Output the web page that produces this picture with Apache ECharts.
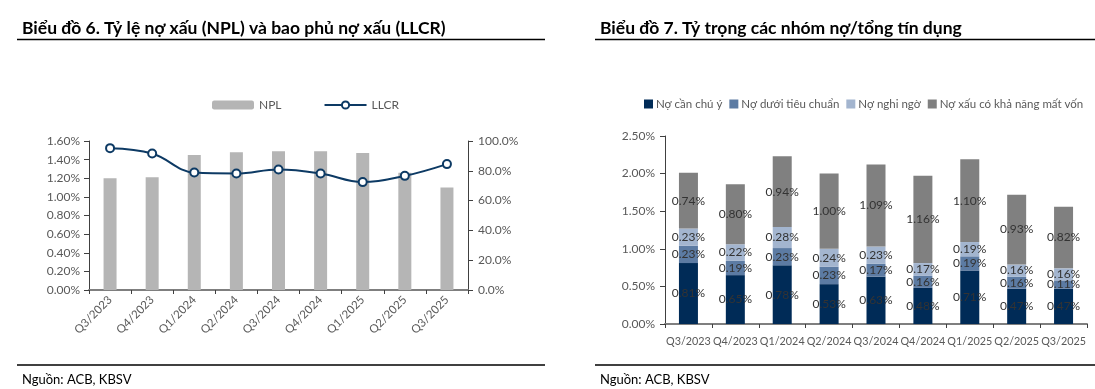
<!DOCTYPE html>
<html><head><meta charset="utf-8">
<script src="https://cdn.jsdelivr.net/npm/echarts@6/dist/echarts.min.js"></script>
<style>html,body{margin:0;padding:0;background:#fff}#c{width:1095px;height:389px}</style>
</head><body><div id="c"></div>
<script>
const quarters = ['Q3/2023','Q4/2023','Q1/2024','Q2/2024','Q3/2024','Q4/2024','Q1/2025','Q2/2025','Q3/2025'];
const npl = [1.20, 1.21, 1.45, 1.48, 1.49, 1.49, 1.47, 1.26, 1.10];
const llcr = [95.2, 91.6, 78.8, 78.2, 80.9, 78.2, 72.4, 76.6, 84.5];
const canChuY = [0.81, 0.65, 0.78, 0.53, 0.63, 0.48, 0.71, 0.47, 0.47];
const duoiTieuChuan = [0.23, 0.19, 0.23, 0.23, 0.17, 0.16, 0.19, 0.16, 0.11];
const nghiNgo = [0.23, 0.22, 0.28, 0.24, 0.23, 0.17, 0.19, 0.16, 0.16];
const matVon = [0.74, 0.80, 0.94, 1.00, 1.09, 1.16, 1.10, 0.93, 0.82];
const groupNames = ['Nợ cần chú ý','Nợ dưới tiêu chuẩn','Nợ nghi ngờ','Nợ xấu có khả năng mất vốn'];
const groupColors = ['#002B57','#5C7BA3','#A3B5CF','#808080'];

const FONT = 'Lato, "Noto Sans", sans-serif';
const axisTxt = {color:'#595959', fontFamily: FONT, fontSize: 12};
const chart = echarts.init(document.getElementById('c'), null, {renderer:'canvas'});

const labelCfg = {show:true, position:'inside', color:'#333', fontFamily:FONT, fontSize:12,
  formatter: p => p.value.toFixed(2) + '%'};
const stackSeries = [canChuY, duoiTieuChuan, nghiNgo, matVon].map((arr,i)=>({
  name: groupNames[i], type:'bar', stack:'s', xAxisIndex:1, yAxisIndex:2,
  data: arr, barWidth:19, itemStyle:{color:groupColors[i]}, label: labelCfg
}));

chart.setOption({
  animation:false,
  textStyle:{fontFamily:FONT},
  title:[
    {text:'Biểu đồ 6. Tỷ lệ nợ xấu (NPL) và bao phủ nợ xấu (LLCR)', left:17, top:14,
     textStyle:{fontSize:17.5, fontWeight:'bold', color:'#000', fontFamily:FONT}},
    {text:'Biểu đồ 7. Tỷ trọng các nhóm nợ/tổng tín dụng', left:595, top:14,
     textStyle:{fontSize:17.5, fontWeight:'bold', color:'#000', fontFamily:FONT}},
    {text:'Nguồn: ACB, KBSV', left:17, top:368, textStyle:{fontSize:13, fontWeight:'normal', color:'#000', fontFamily:FONT}},
    {text:'Nguồn: ACB, KBSV', left:595, top:368, textStyle:{fontSize:13, fontWeight:'normal', color:'#000', fontFamily:FONT}}
  ],
  graphic:[
    {type:'line', shape:{x1:17,y1:39.5,x2:545,y2:39.5}, style:{stroke:'#000', lineWidth:1.5}},
    {type:'line', shape:{x1:595,y1:39.5,x2:1095,y2:39.5}, style:{stroke:'#000', lineWidth:1.5}},
    {type:'line', shape:{x1:17,y1:365,x2:545,y2:365}, style:{stroke:'#000', lineWidth:1.5}},
    {type:'line', shape:{x1:595,y1:365,x2:1095,y2:365}, style:{stroke:'#000', lineWidth:1.5}}
  ],
  legend:[
    {data:['NPL','LLCR'], left:207, top:94, itemWidth:42, itemHeight:9, itemGap:42,
     textStyle:{color:'#595959', fontSize:12, fontFamily:FONT}},
    {data:groupNames, left:639, top:93, width:456, itemWidth:9, itemHeight:9, itemGap:7, icon:'rect',
     textStyle:{color:'#595959', fontSize:11.5, fontFamily:FONT, padding:[0,0,0,-2]}}
  ],
  grid:[
    {left:89, right:627, top:141, bottom:99},
    {left:665, right:8, top:136, bottom:65}
  ],
  xAxis:[
    {type:'category', gridIndex:0, data:quarters, boundaryGap:true,
     axisLine:{lineStyle:{color:'#7f7f7f', width:2}},
     axisTick:{show:true, length:4, alignWithLabel:false, lineStyle:{color:'#404040'}},
     axisLabel:Object.assign({rotate:45, margin:8, interval:0}, axisTxt, {fontSize:11.5})},
    {type:'category', gridIndex:1, data:quarters, boundaryGap:true,
     axisLine:{lineStyle:{color:'#7f7f7f', width:2}},
     axisTick:{show:true, length:4, lineStyle:{color:'#404040'}},
     axisLabel:Object.assign({margin:12, interval:0}, axisTxt, {fontSize:10.8})}
  ],
  yAxis:[
    {type:'value', gridIndex:0, min:0, max:1.6, interval:0.2, position:'left',
     axisLine:{show:true, lineStyle:{color:'#404040'}},
     axisTick:{show:true, length:5, lineStyle:{color:'#404040'}},
     splitLine:{show:false},
     axisLabel:Object.assign({formatter:v=>v.toFixed(2)+'%', margin:9}, axisTxt)},
    {type:'value', gridIndex:0, min:0, max:100, interval:20, position:'right',
     axisLine:{show:true, lineStyle:{color:'#404040'}},
     axisTick:{show:true, length:5, lineStyle:{color:'#404040'}},
     splitLine:{show:false},
     axisLabel:Object.assign({formatter:v=>v.toFixed(1)+'%', margin:10}, axisTxt)},
    {type:'value', gridIndex:1, min:0, max:2.5, interval:0.5,
     axisLine:{show:true, lineStyle:{color:'#404040'}},
     axisTick:{show:true, length:5, lineStyle:{color:'#404040'}},
     splitLine:{show:false},
     axisLabel:Object.assign({formatter:v=>v.toFixed(2)+'%', margin:10}, axisTxt)}
  ],
  series:[
    {name:'NPL', type:'bar', xAxisIndex:0, yAxisIndex:0, data:npl, barWidth:13,
     itemStyle:{color:'#B5B5B5'}},
    {name:'LLCR', type:'line', xAxisIndex:0, yAxisIndex:1, data:llcr, smooth:0.4,
     symbol:'circle', symbolSize:8,
     lineStyle:{color:'#0D3A64', width:2},
     itemStyle:{color:'#fff', borderColor:'#0D3A64', borderWidth:2}},
    ...stackSeries
  ]
});
</script></body></html>
